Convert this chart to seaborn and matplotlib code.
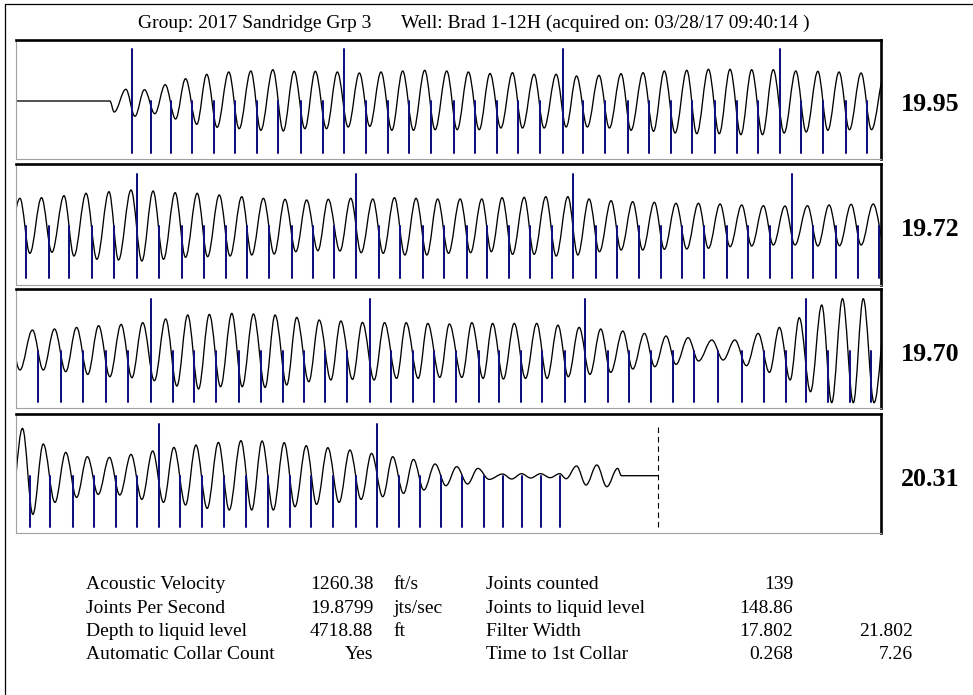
import numpy as np
import pandas as pd
import matplotlib
matplotlib.use("Agg")
import matplotlib.pyplot as plt
from matplotlib.path import Path
from matplotlib.patches import PathPatch
from matplotlib.lines import Line2D
import seaborn as sns

# ---------------- data ----------------
TITLE_GROUP = "Group: 2017 Sandridge Grp 3"
TITLE_WELL = "Well: Brad 1-12H (acquired on: 03/28/17 09:40:14 )"

PANEL_START_S = [0.0, 2.0, 4.0, 6.0]
PANEL_SPAN_S = 2.0
PANEL_RATE = ["19.95", "19.72", "19.70", "20.31"]

# collar (joint) times, seconds
COLLARS_P1 = [0.268, 0.311, 0.359, 0.407, 0.457, 0.506, 0.557, 0.606, 0.658, 0.709,
              0.758, 0.809, 0.860, 0.909, 0.960, 1.013, 1.061, 1.111, 1.160, 1.212,
              1.264, 1.312, 1.363, 1.414, 1.464, 1.514, 1.563, 1.616, 1.666, 1.716,
              1.766, 1.815, 1.867, 1.918, 1.967]
COLLARS_P2 = [2.023, 2.076, 2.123, 2.176, 2.227, 2.279, 2.331, 2.383, 2.434, 2.486,
              2.535, 2.586, 2.637, 2.687, 2.736, 2.786, 2.839, 2.888, 2.940, 2.990,
              3.042, 3.090, 3.141, 3.188, 3.239, 3.288, 3.340, 3.389, 3.440, 3.492,
              3.541, 3.591, 3.643, 3.693, 3.744, 3.794, 3.842, 3.896, 3.947, 3.995]
COLLARS_P3 = [4.050, 4.103, 4.156, 4.208, 4.259, 4.311, 4.363, 4.412, 4.463, 4.515,
              4.567, 4.617, 4.667, 4.715, 4.766, 4.818, 4.867, 4.918, 4.967, 5.018,
              5.071, 5.117, 5.168, 5.217, 5.269, 5.316, 5.368, 5.417, 5.469, 5.520,
              5.568, 5.624, 5.679, 5.730, 5.780, 5.827, 5.877, 5.928, 5.976]
COLLARS_P4 = [6.032, 6.079, 6.131, 6.180, 6.231, 6.280, 6.331, 6.379, 6.430, 6.482,
              6.531, 6.582, 6.633, 6.683, 6.733, 6.786, 6.835, 6.886, 6.933, 6.983,
              7.031, 7.081, 7.125, 7.169, 7.213, 7.257]
MARKED_COLLARS = [0.268, 0.758, 1.264, 1.766, 2.279, 2.786, 3.288, 3.794,
                  4.311, 4.818, 5.316, 5.827, 6.331, 6.835]
LIQUID_LEVEL_S = 7.485

# acoustic trace: extrema (time s, amplitude)
WAVE_T_P1 = [0.000, 0.217, 0.227, 0.254, 0.275, 0.297, 0.321, 0.345, 0.369, 0.392,
             0.418, 0.441, 0.465, 0.492, 0.516, 0.543, 0.566, 0.594, 0.618, 0.643,
             0.668, 0.692, 0.718, 0.743, 0.768, 0.794, 0.818, 0.844, 0.869, 0.894,
             0.919, 0.945, 0.969, 0.996, 1.020, 1.046, 1.071, 1.096, 1.121, 1.148,
             1.171, 1.198, 1.221, 1.249, 1.272, 1.296, 1.321, 1.348, 1.372, 1.399,
             1.422, 1.450, 1.474, 1.499, 1.524, 1.551, 1.574, 1.601, 1.626, 1.651,
             1.676, 1.701, 1.726, 1.751, 1.776, 1.803, 1.827, 1.854, 1.877, 1.903,
             1.927, 1.954, 1.978]
WAVE_A_P1 = [0, 0, -11, 11.7, -15.3, 11.3, -12.7, 16.3, -18, 22.3,
             -23.3, 26.7, -26.3, 29, -27.7, 30, -29.3, 31.3, -30, 29.7,
             -27.7, 29.7, -27.7, 29, -26, 28, -25.3, 29, -29.3, 30,
             -29.3, 30.7, -28.7, 30, -28.7, 29, -28.7, 27.5, -27, 28.3,
             -27, 26.7, -27, 26.7, -26, 25, -26, 25.7, -27, 27.3,
             -29.3, 28.3, -30.3, 30, -32, 30.7, -32.7, 31.7, -32.7, 31.7,
             -33.7, 31.3, -33.7, 31.3, -32, 30, -31, 29.7, -29.3, 29,
             -28.7, 28, -28.7]
WAVE_T_P2 = [2.009, 2.032, 2.059, 2.083, 2.111, 2.134, 2.162, 2.187, 2.215, 2.237,
             2.266, 2.291, 2.317, 2.341, 2.368, 2.392, 2.419, 2.443, 2.470, 2.495,
             2.522, 2.545, 2.572, 2.597, 2.622, 2.647, 2.672, 2.698, 2.722, 2.749,
             2.774, 2.798, 2.825, 2.849, 2.875, 2.899, 2.925, 2.950, 2.975, 3.000,
             3.027, 3.051, 3.077, 3.099, 3.124, 3.148, 3.175, 3.198, 3.225, 3.249,
             3.276, 3.299, 3.325, 3.349, 3.376, 3.399, 3.426, 3.449, 3.476, 3.499,
             3.526, 3.551, 3.578, 3.601, 3.628, 3.651, 3.678, 3.701, 3.728, 3.751,
             3.778, 3.801, 3.830, 3.854, 3.880, 3.904, 3.931, 3.954, 3.982]
WAVE_A_P2 = [27.7, -27.3, 28.3, -26.3, 30.3, -30, 32.7, -33.3, 34.3, -34,
             36, -35, 35, -33.3, 33.3, -31.3, 32.7, -30.7, 31, -30,
             29.3, -29, 27.7, -28, 26.7, -25.7, 26, -24.7, 26.7, -25,
             27.7, -26.7, 27, -27.3, 28.3, -29, 27.7, -29, 27, -27.3,
             27, -26.7, 27, -25.7, 28.3, -28.3, 28.7, -28.3, 29.3, -30,
             29.3, -29, 27, -25.7, 25.3, -24, 24.3, -24, 23.7, -23.3,
             22.7, -23, 22.7, -22.3, 22, -20.7, 21, -20, 20.3, -19,
             20, -19, 20.3, -20, 21, -19.7, 21.7, -19, 22]
WAVE_T_P3 = [4.009, 4.038, 4.063, 4.089, 4.115, 4.140, 4.166, 4.191, 4.217, 4.243,
             4.268, 4.293, 4.320, 4.346, 4.372, 4.397, 4.422, 4.447, 4.473, 4.499,
             4.523, 4.549, 4.576, 4.599, 4.626, 4.649, 4.677, 4.701, 4.728, 4.751,
             4.778, 4.801, 4.828, 4.852, 4.880, 4.902, 4.930, 4.952, 4.980, 5.002,
             5.031, 5.054, 5.080, 5.102, 5.127, 5.152, 5.178, 5.204, 5.228, 5.253,
             5.277, 5.302, 5.327, 5.352, 5.375, 5.403, 5.426, 5.453, 5.477, 5.503,
             5.526, 5.554, 5.578, 5.609, 5.635, 5.662, 5.689, 5.716, 5.742, 5.765,
             5.790, 5.811, 5.837, 5.863, 5.886, 5.911, 5.936, 5.959, 5.984]
WAVE_A_P3 = [-19.3, 20.7, -19.3, 21.7, -21, 23.3, -23.7, 25, -26, 26.3,
             -27, 28, -30, 31.7, -35.3, 35.7, -38.3, 36.3, -36, 37.3,
             -36, 36.7, -36.7, 35.7, -34.3, 33.3, -31, 30.7, -29.3, 29.7,
             -28.7, 28.3, -29.3, 28, -27.7, 28, -27.7, 27.3, -26.7, 26.7,
             -26.7, 28, -27.7, 27.3, -28.3, 27.3, -27.7, 27.3, -27.7, 25.5,
             -26, 23.3, -23.7, 21.7, -21.7, 19.7, -18.3, 17.3, -16, 14.7,
             -13.7, 13, -10.3, 10.7, -9.3, 10.7, -15, 17.3, -21.7, 23.3,
             -29.3, 33, -41, 45.7, -52, 52, -52, 52, -52]
WAVE_T_P4 = [6.015, 6.039, 6.063, 6.090, 6.115, 6.140, 6.165, 6.190, 6.216, 6.240,
             6.266, 6.291, 6.316, 6.341, 6.365, 6.392, 6.416, 6.442, 6.468, 6.493,
             6.520, 6.545, 6.569, 6.595, 6.620, 6.645, 6.671, 6.695, 6.721, 6.747,
             6.772, 6.798, 6.822, 6.848, 6.871, 6.896, 6.919, 6.943, 6.969, 6.994,
             7.019, 7.044, 7.068, 7.094, 7.125, 7.146, 7.169, 7.190, 7.213, 7.235,
             7.257, 7.272, 7.296, 7.318, 7.343, 7.366, 7.391, 7.400, 7.485]
WAVE_A_P4 = [47.3, -38.7, 31.7, -26.7, 23.3, -21.7, 19, -18.7, 18.3, -19.3,
             21.3, -23.7, 24.7, -26.7, 28.3, -29.3, 30.7, -32.7, 33.3, -34.3,
             35, -34.3, 34.7, -34.3, 33, -31, 30, -28.7, 28, -26.7,
             25.7, -23.7, 22.3, -21, 19, -17.7, 16.3, -14.3, 11.7, -10,
             9, -8.3, 7.3, -3.7, 1.7, -3.3, 2, -2.3, 2, -2,
             2, -3, 9.7, -9.3, 10.7, -11, 7.3, 0, 0]

STATS_LEFT_LABELS = ["Acoustic Velocity", "Joints Per Second",
                     "Depth to liquid level", "Automatic Collar Count"]
STATS_LEFT_VALUES = ["1260.38", "19.8799", "4718.88", "Yes"]
STATS_LEFT_UNITS = ["ft/s", "jts/sec", "ft", ""]
STATS_RIGHT_LABELS = ["Joints counted", "Joints to liquid level",
                      "Filter Width", "Time to 1st Collar"]
STATS_RIGHT_VALUES = ["139", "148.86", "17.802", "0.268"]
STATS_RIGHT_EXTRA = ["", "", "21.802", "7.26"]

# ---------------- style / layout ----------------
sns.set_style("white")
plt.rcParams['font.family'] = ['Liberation Serif', 'DejaVu Serif']
plt.rcParams['text.color'] = 'black'

W, H = 973, 695
fig = plt.figure(figsize=(W / 100, H / 100), dpi=100)
fig.patch.set_facecolor("white")


def fx(px):
    return px / W


def fy(py):
    return 1 - py / H


PANEL_LEFT, PANEL_RIGHT = 16, 881
PANEL_TB = [(39.5, 158.5), (164.0, 285.0), (288.5, 407.5), (413.5, 532.5)]
PANEL_BASE = [101.0, 226.0, 350.7, 475.7]
COLLAR_H = 51.7
NAVY = "#10107f"

collars_all = COLLARS_P1 + COLLARS_P2 + COLLARS_P3 + COLLARS_P4
wave_t = np.array(WAVE_T_P1 + WAVE_T_P2 + WAVE_T_P3 + WAVE_T_P4)
wave_a = np.array(WAVE_A_P1 + WAVE_A_P2 + WAVE_A_P3 + WAVE_A_P4)


def wave_path(t, a, k=0.36):
    verts = [(t[0], a[0])]
    codes = [Path.MOVETO]
    for i in range(1, len(t)):
        x0, y0, x1, y1 = t[i - 1], a[i - 1], t[i], a[i]
        dx = x1 - x0
        verts += [(x0 + k * dx, y0), (x1 - k * dx, y1), (x1, y1)]
        codes += [Path.CURVE4] * 3
    return Path(verts, codes)


rows = []
for i, t in enumerate(collars_all):
    tall = np.any(np.isclose(t, MARKED_COLLARS, atol=1e-4))
    rows.append((i, t, -COLLAR_H))
    rows.append((i, t, COLLAR_H if tall else 0.0))
collar_df = pd.DataFrame(rows, columns=["id", "t", "y"])

for p in range(4):
    top, bot = PANEL_TB[p]
    base = PANEL_BASE[p]
    ax = fig.add_axes([fx(PANEL_LEFT), fy(bot), fx(PANEL_RIGHT - PANEL_LEFT),
                       (bot - top) / H])
    t0 = PANEL_START_S[p]
    sub = collar_df[(collar_df.t >= t0) & (collar_df.t <= t0 + PANEL_SPAN_S)]
    sns.lineplot(data=sub, x="t", y="y", units="id", estimator=None, sort=False,
                 color=NAVY, linewidth=1.45, ax=ax, legend=False)
    ax.add_patch(PathPatch(wave_path(wave_t, wave_a), fill=False,
                           edgecolor="black", linewidth=0.95))
    if t0 <= LIQUID_LEVEL_S <= t0 + PANEL_SPAN_S:
        ax.plot([LIQUID_LEVEL_S, LIQUID_LEVEL_S], [-COLLAR_H, 49],
                color="black", linewidth=0.8, linestyle=(0, (5, 3.5)))
    ax.set_xlim(t0, t0 + PANEL_SPAN_S)
    ax.set_ylim(-(bot - base), base - top)
    ax.set_xticks([])
    ax.set_yticks([])
    ax.set(xlabel="", ylabel="")
    ax.grid(False)
    for side in ["top", "right"]:
        ax.spines[side].set_visible(True)
        ax.spines[side].set_color("black")
        ax.spines[side].set_linewidth(1.9)
    for side in ["left", "bottom"]:
        ax.spines[side].set_visible(True)
        ax.spines[side].set_color("#a0a0a0")
        ax.spines[side].set_linewidth(0.8)
    fig.text(fx(901), fy(base + 10.3), PANEL_RATE[p], ha="left", va="baseline",
             fontsize=18.7, fontweight="bold", color="black")

# outer frame (top and left edges)
fig.add_artist(Line2D([fx(5), fx(5)], [fy(4), 0], color="black", linewidth=0.9))
fig.add_artist(Line2D([fx(5), 1], [fy(4), fy(4)], color="black", linewidth=0.9))

# title
fig.text(fx(138), fy(28.3), TITLE_GROUP, ha="left", va="baseline", fontsize=14,
         color="black")
fig.text(fx(401), fy(28.3), TITLE_WELL, ha="left", va="baseline", fontsize=14,
         color="black")

# stats block
row_base = [589.3, 612.7, 636.0, 659.3]
for r in range(4):
    yb = fy(row_base[r])
    kw = dict(va="baseline", fontsize=14, color="black")
    fig.text(fx(86), yb, STATS_LEFT_LABELS[r], ha="left", **kw)
    fig.text(fx(373.3), yb, STATS_LEFT_VALUES[r], ha="right", **kw)
    fig.text(fx(393.3), yb, STATS_LEFT_UNITS[r], ha="left", **kw)
    fig.text(fx(486), yb, STATS_RIGHT_LABELS[r], ha="left", **kw)
    fig.text(fx(793.3), yb, STATS_RIGHT_VALUES[r], ha="right", **kw)
    fig.text(fx(913.3), yb, STATS_RIGHT_EXTRA[r], ha="right", **kw)

fig.savefig("out.png", dpi=100, facecolor="white")
